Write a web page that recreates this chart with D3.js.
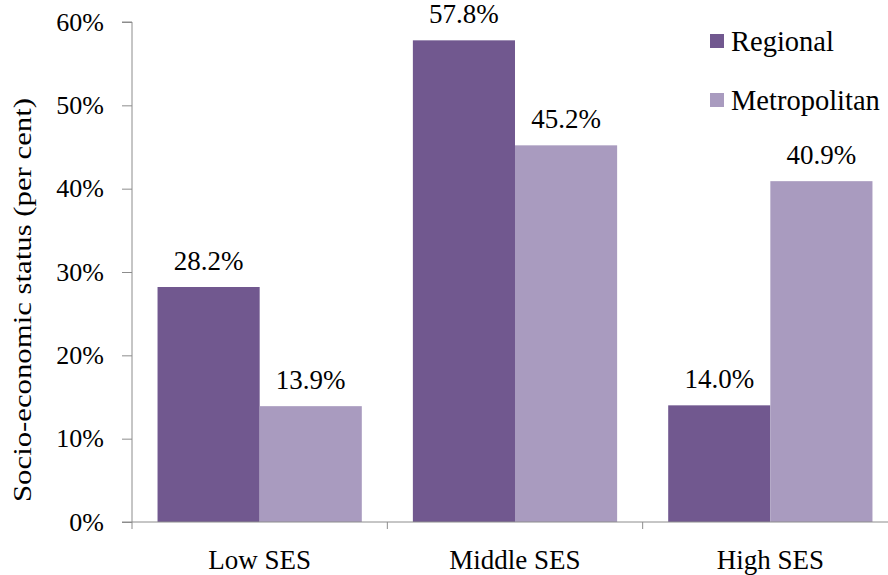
<!DOCTYPE html>
<html>
<head>
<meta charset="utf-8">
<script src="https://cdn.jsdelivr.net/npm/d3@7"></script>
<style>
  html, body { margin: 0; padding: 0; background: #fff; }
  svg { display: block; }
</style>
</head>
<body>
<svg id="chart" width="888" height="575"></svg>
<script>
const categories = ["Low SES", "Middle SES", "High SES"];
const seriesNames = ["Regional", "Metropolitan"];
const regional = [28.2, 57.8, 14.0];
const metropolitan = [13.9, 45.2, 40.9];
const yTicks = [0, 10, 20, 30, 40, 50, 60];
const colors = ["#71588F", "#A99BBF"];

const FONT = '"Liberation Serif", "Times New Roman", serif';
const svg = d3.select("#chart");
const W = 888, H = 575;
const m = { left: 132, top: 22, bottom: 53 };
const plotRight = 898;
const y0 = H - m.bottom;

const x = d3.scaleBand().domain(categories).range([m.left, plotRight]).paddingInner(0.2).paddingOuter(0.1);
const xs = d3.scaleBand().domain(seriesNames).range([0, x.bandwidth()]);
const y = d3.scaleLinear().domain([0, 60]).range([y0, m.top]);

const data = categories.map((c, i) => ({ cat: c, vals: [regional[i], metropolitan[i]] }));

function txt(sel, size) {
  return sel.attr("font-family", FONT).style("font-family", FONT).style("font-size", size + "px").attr("fill", "#000");
}

// bars
const g = svg.append("g");
data.forEach(d => {
  d.vals.forEach((v, j) => {
    const bx = x(d.cat) + xs(seriesNames[j]);
    g.append("rect")
      .attr("x", bx)
      .attr("y", y(v))
      .attr("width", xs.bandwidth())
      .attr("height", y0 - y(v))
      .attr("fill", colors[j]);
    g.append("text")
      .attr("x", bx + xs.bandwidth() / 2)
      .attr("y", y(v) - 17)
      .attr("text-anchor", "middle")
      .call(txt, 27)
      .text(v.toFixed(1) + "%");
  });
});

const axisColor = "#8c8c8c";

// y axis
const yAxis = d3.axisLeft(y).tickValues(yTicks).tickSize(10).tickFormat(d => d + "%");
const ya = svg.append("g").attr("transform", `translate(${m.left},0)`).call(yAxis);
ya.attr("font-family", null);
ya.select(".domain").attr("stroke", axisColor).attr("d", `M-10,${m.top}H0V${y0}H-10`);
ya.selectAll(".tick line").attr("stroke", axisColor);
ya.selectAll(".tick text").attr("x", -28).call(txt, 26);

// x axis
const xa = svg.append("g").attr("transform", `translate(0,${y0})`);
xa.append("line").attr("x1", m.left).attr("x2", W).attr("y1", 0).attr("y2", 0).attr("stroke", axisColor);
const boundaries = [m.left, ...categories.map(c => x(c) + x.bandwidth() + x.step() * x.paddingInner() / 2)];
boundaries.forEach(b => {
  xa.append("line").attr("x1", b).attr("x2", b).attr("y1", 0).attr("y2", 7).attr("stroke", axisColor);
});
categories.forEach(c => {
  xa.append("text")
    .attr("x", x(c) + x.bandwidth() / 2)
    .attr("y", 47)
    .attr("text-anchor", "middle")
    .call(txt, 27)
    .text(c);
});

// y title
svg.append("text")
  .attr("transform", `translate(31,300) rotate(-90)`)
  .attr("text-anchor", "middle")
  .attr("textLength", 404)
  .attr("lengthAdjust", "spacingAndGlyphs")
  .call(txt, 26)
  .text("Socio-economic status (per cent)");

// legend
const legendY = [41, 100];
seriesNames.forEach((s, i) => {
  svg.append("rect").attr("x", 710).attr("y", legendY[i] - 7).attr("width", 14).attr("height", 14).attr("fill", colors[i]);
  svg.append("text").attr("x", 731).attr("y", legendY[i]).attr("dy", "0.35em").call(txt, 28.5).text(s);
});
</script>
</body>
</html>
